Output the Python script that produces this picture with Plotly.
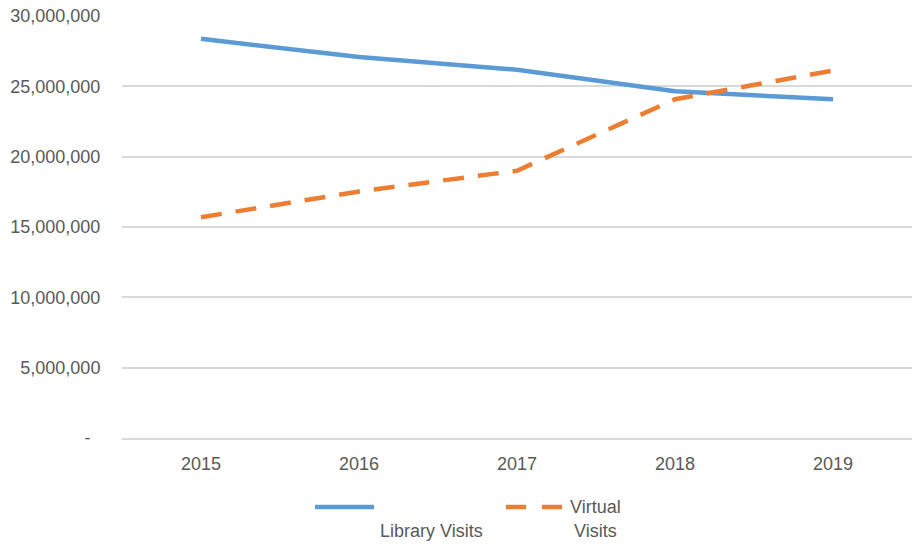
import plotly.graph_objects as go

years = ["2015", "2016", "2017", "2018", "2019"]
library_visits = [28380000, 27080000, 26180000, 24650000, 24080000]
virtual_visits = [15690000, 17530000, 19000000, 24080000, 26120000]
y_tickvals = [0, 5000000, 10000000, 15000000, 20000000, 25000000, 30000000]
y_ticktext = ["-\u00a0\u00a0", "5,000,000", "10,000,000", "15,000,000", "20,000,000", "25,000,000", "30,000,000"]

FONT = "Liberation Sans"
TXT = "#595959"
BLUE = "#5b9bd5"
ORANGE = "#ed7d31"
FS = 18

fig = go.Figure()
fig.add_trace(go.Scatter(x=years, y=library_visits, mode="lines", name="Library Visits",
                         line=dict(color=BLUE, width=4.5), showlegend=False))
fig.add_trace(go.Scatter(x=years, y=virtual_visits, mode="lines", name="Virtual Visits",
                         line=dict(color=ORANGE, width=4.5, dash="21px,14px"), showlegend=False))

fig.update_layout(
    width=914, height=544,
    margin=dict(l=122, r=2, t=16, b=106),
    paper_bgcolor="white", plot_bgcolor="white",
    font=dict(family=FONT, size=FS, color=TXT),
    xaxis=dict(type="category", range=[-0.5, 4.5], showgrid=False, zeroline=False,
               showline=True, linecolor="#d9d9d9", linewidth=1.5,
               ticks="outside", ticklen=9, tickcolor="rgba(0,0,0,0)",
               tickfont=dict(family=FONT, size=FS, color=TXT)),
    yaxis=dict(range=[0, 30000000], tickvals=y_tickvals, ticktext=y_ticktext,
               showgrid=True, gridcolor="#d9d9d9", gridwidth=1.5, zeroline=False,
               showline=False, ticks="outside", ticklen=17, tickcolor="rgba(0,0,0,0)",
               tickfont=dict(family=FONT, size=FS, color=TXT)),
)

# custom legend (Excel-style)
def px_x(p):
    return (p - 122) / 790.0

def px_y(p):
    return (438 - p) / 422.0

fig.add_shape(type="line", xref="paper", yref="paper",
              x0=px_x(315), x1=px_x(374), y0=px_y(507), y1=px_y(507),
              line=dict(color=BLUE, width=4.5))
fig.add_shape(type="line", xref="paper", yref="paper",
              x0=px_x(506), x1=px_x(563), y0=px_y(507), y1=px_y(507),
              line=dict(color=ORANGE, width=4.5, dash="20px,16px"))
fig.add_annotation(xref="paper", yref="paper", x=px_x(378), y=px_y(531),
                   xanchor="left", yanchor="middle", text="Library Visits",
                   showarrow=False, font=dict(family=FONT, size=FS, color=TXT))
fig.add_annotation(xref="paper", yref="paper", x=px_x(568), y=px_y(507),
                   xanchor="left", yanchor="middle", text="Virtual",
                   showarrow=False, font=dict(family=FONT, size=FS, color=TXT))
fig.add_annotation(xref="paper", yref="paper", x=px_x(572), y=px_y(531),
                   xanchor="left", yanchor="middle", text="Visits",
                   showarrow=False, font=dict(family=FONT, size=FS, color=TXT))

fig.write_html("out.html", config={"displayModeBar": False},
               post_script="document.body.style.margin='0';document.body.style.overflow='hidden';")
